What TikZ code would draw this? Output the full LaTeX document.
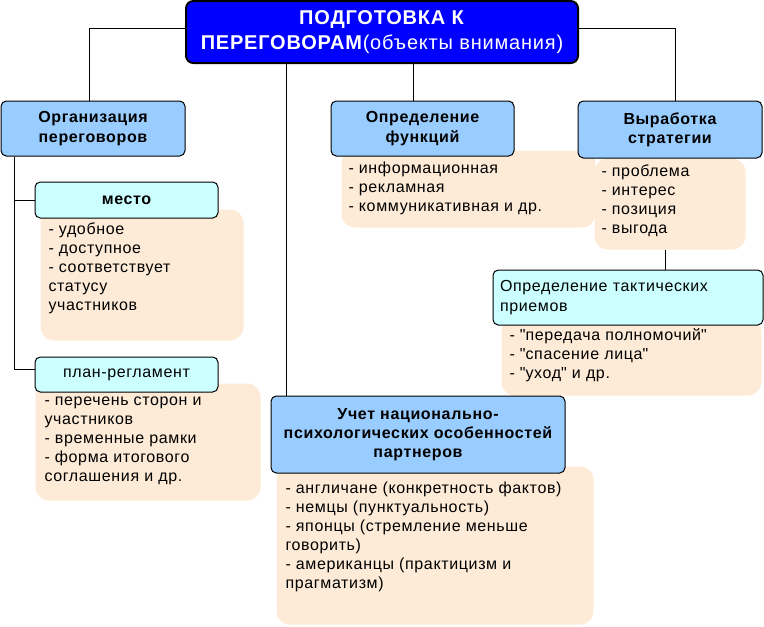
\documentclass[tikz,border=0pt]{standalone}
\usepackage{fontspec}
\setmainfont{Liberation Sans}[LetterSpace=4]

\tikzset{every picture/.style={line width=0.75pt}}
\tikzset{
	titlebox/.style={draw, line width=1.5pt, rounded corners=5.5pt, fill={rgb, 255:red, 0; green, 0; blue, 255 }, text=white, align=center, font=\fontsize{15}{19}\selectfont, minimum width=294pt, minimum height=46.5pt, inner sep=0pt},
	headbox/.style={draw, rounded corners=4pt, fill={rgb, 255:red, 153; green, 204; blue, 255 }, align=center, font=\fontsize{12}{14.5}\selectfont\bfseries, inner sep=0pt},
	subbox/.style={draw, rounded corners=4pt, fill={rgb, 255:red, 204; green, 255; blue, 255 }, align=center, font=\fontsize{12}{15}\selectfont, inner sep=0pt},
	notebg/.style={fill={rgb, 255:red, 253; green, 235; blue, 215 }, rounded corners=10pt, anchor=north west, inner sep=0pt},
	notetext/.style={anchor=north west, align=left, inner sep=0pt, font=\fontsize{12}{14.25}\selectfont, execute at begin node=\strut},
	link/.style={draw, line width=0.75pt}
}

\begin{document}
\begin{tikzpicture}[x=0.75pt,y=0.75pt,yscale=-1,xscale=1]
	\useasboundingbox (0,0) rectangle (764,626);

	%Shape: Rounded Rect (notes)
	\node [notebg, minimum width=152.25pt, minimum height=98.25pt] (mestoBg) at (40,209) {};
	\node [notebg, minimum width=168.75pt, minimum height=87.75pt] (planBg) at (35,383) {};
	\node [notebg, minimum width=190.5pt, minimum height=57.75pt] (funcBg) at (341,150) {};
	\node [notebg, minimum width=113.25pt, minimum height=68.25pt] (stratBg) at (594,158) {};
	\node [notebg, minimum width=195pt, minimum height=57.75pt] (taktBg) at (501,318) {};
	\node [notebg, minimum width=237.75pt, minimum height=118.5pt] (uchetBg) at (276,466) {};

	%Shape: Rounded Rect (title)
	\node [titlebox] (title) at (382,32) {\textbf{ПОДГОТОВКА К}\\\textbf{ПЕРЕГОВОРАМ}(объекты внимания)};

	%Shape: Rounded Rect (headers)
	\node [headbox, minimum width=138pt, minimum height=41.25pt] (org) at (93,128.5) {Организация\\переговоров};
	\node [headbox, minimum width=137.25pt, minimum height=41.25pt] (func) at (422.5,128.5) {Определение\\функций};
	\node [headbox, minimum width=138pt, minimum height=42.75pt] (strat) at (670,129.5) {Выработка\\стратегии};
	\node [headbox, minimum width=220.5pt, minimum height=57.75pt] (uchet) at (418,434.5) {Учет национально-\\психологических особенностей\\партнеров};

	%Shape: Rounded Rect (sub headers)
	\node [subbox, minimum width=137.25pt, minimum height=27pt, font=\fontsize{12}{15}\selectfont\bfseries] (mesto) at (126.5,200) {место};
	\node [subbox, minimum width=137.25pt, minimum height=26.25pt] (plan) at (126.5,374.5) {план-регламент};
	\node [subbox, minimum width=202.5pt, minimum height=41.25pt, text width=192pt, align=left] (takt) at (628,297.5) {Определение тактических\\приемов};

	% Text Node
	\node [notetext] (mestoTxt) at (48,222.5) {- удобное\\- доступное\\- соответствует\\статусу\\участников};
	% Text Node
	\node [notetext] (planTxt) at (44,396.5) {- перечень сторон и\\участников\\- временные рамки\\- форма итогового\\соглашения и др.};
	% Text Node
	\node [notetext] (funcTxt) at (348,161.5) {- информационная\\- рекламная\\- коммуникативная и др.};
	% Text Node
	\node [notetext] (stratTxt) at (601,164.5) {- проблема\\- интерес\\- позиция\\- выгода};
	% Text Node
	\node [notetext] (taktTxt) at (509,328.5) {- \textquotedbl передача полномочий\textquotedbl\\- \textquotedbl спасение лица\textquotedbl\\- \textquotedbl уход\textquotedbl{} и др.};
	% Text Node
	\node [notetext] (uchetTxt) at (285,481.5) {- англичане (конкретность фактов)\\- немцы (пунктуальность)\\- японцы (стремление меньше\\говорить)\\- американцы (практицизм и\\прагматизм)};

	%Straight Lines
	\coordinate (orgOut) at ([xshift=10.5pt]org.south west);
	\coordinate (uchetIn) at ([xshift=12pt]uchet.north west);
	\coordinate (funcIn) at ([xshift=-6.4pt]func.north);
	\coordinate (stratOut) at ([xshift=-3.4pt]stratBg.south);
	\draw [link] ([yshift=-3pt]title.west) -| ([xshift=-3pt]org.north);
	\draw [link] ([yshift=-3pt]title.east) -| ([xshift=3.75pt]strat.north);
	\draw [link] (funcIn) -- (funcIn |- title.south);
	\draw [link] (uchetIn) -- (uchetIn |- title.south);
	\draw [link] (orgOut) |- (mesto.west);
	\draw [link] (orgOut) |- ([yshift=-4pt]plan.west);
	\draw [link] (stratOut) -- (stratOut |- takt.north);

\end{tikzpicture}
\end{document}
